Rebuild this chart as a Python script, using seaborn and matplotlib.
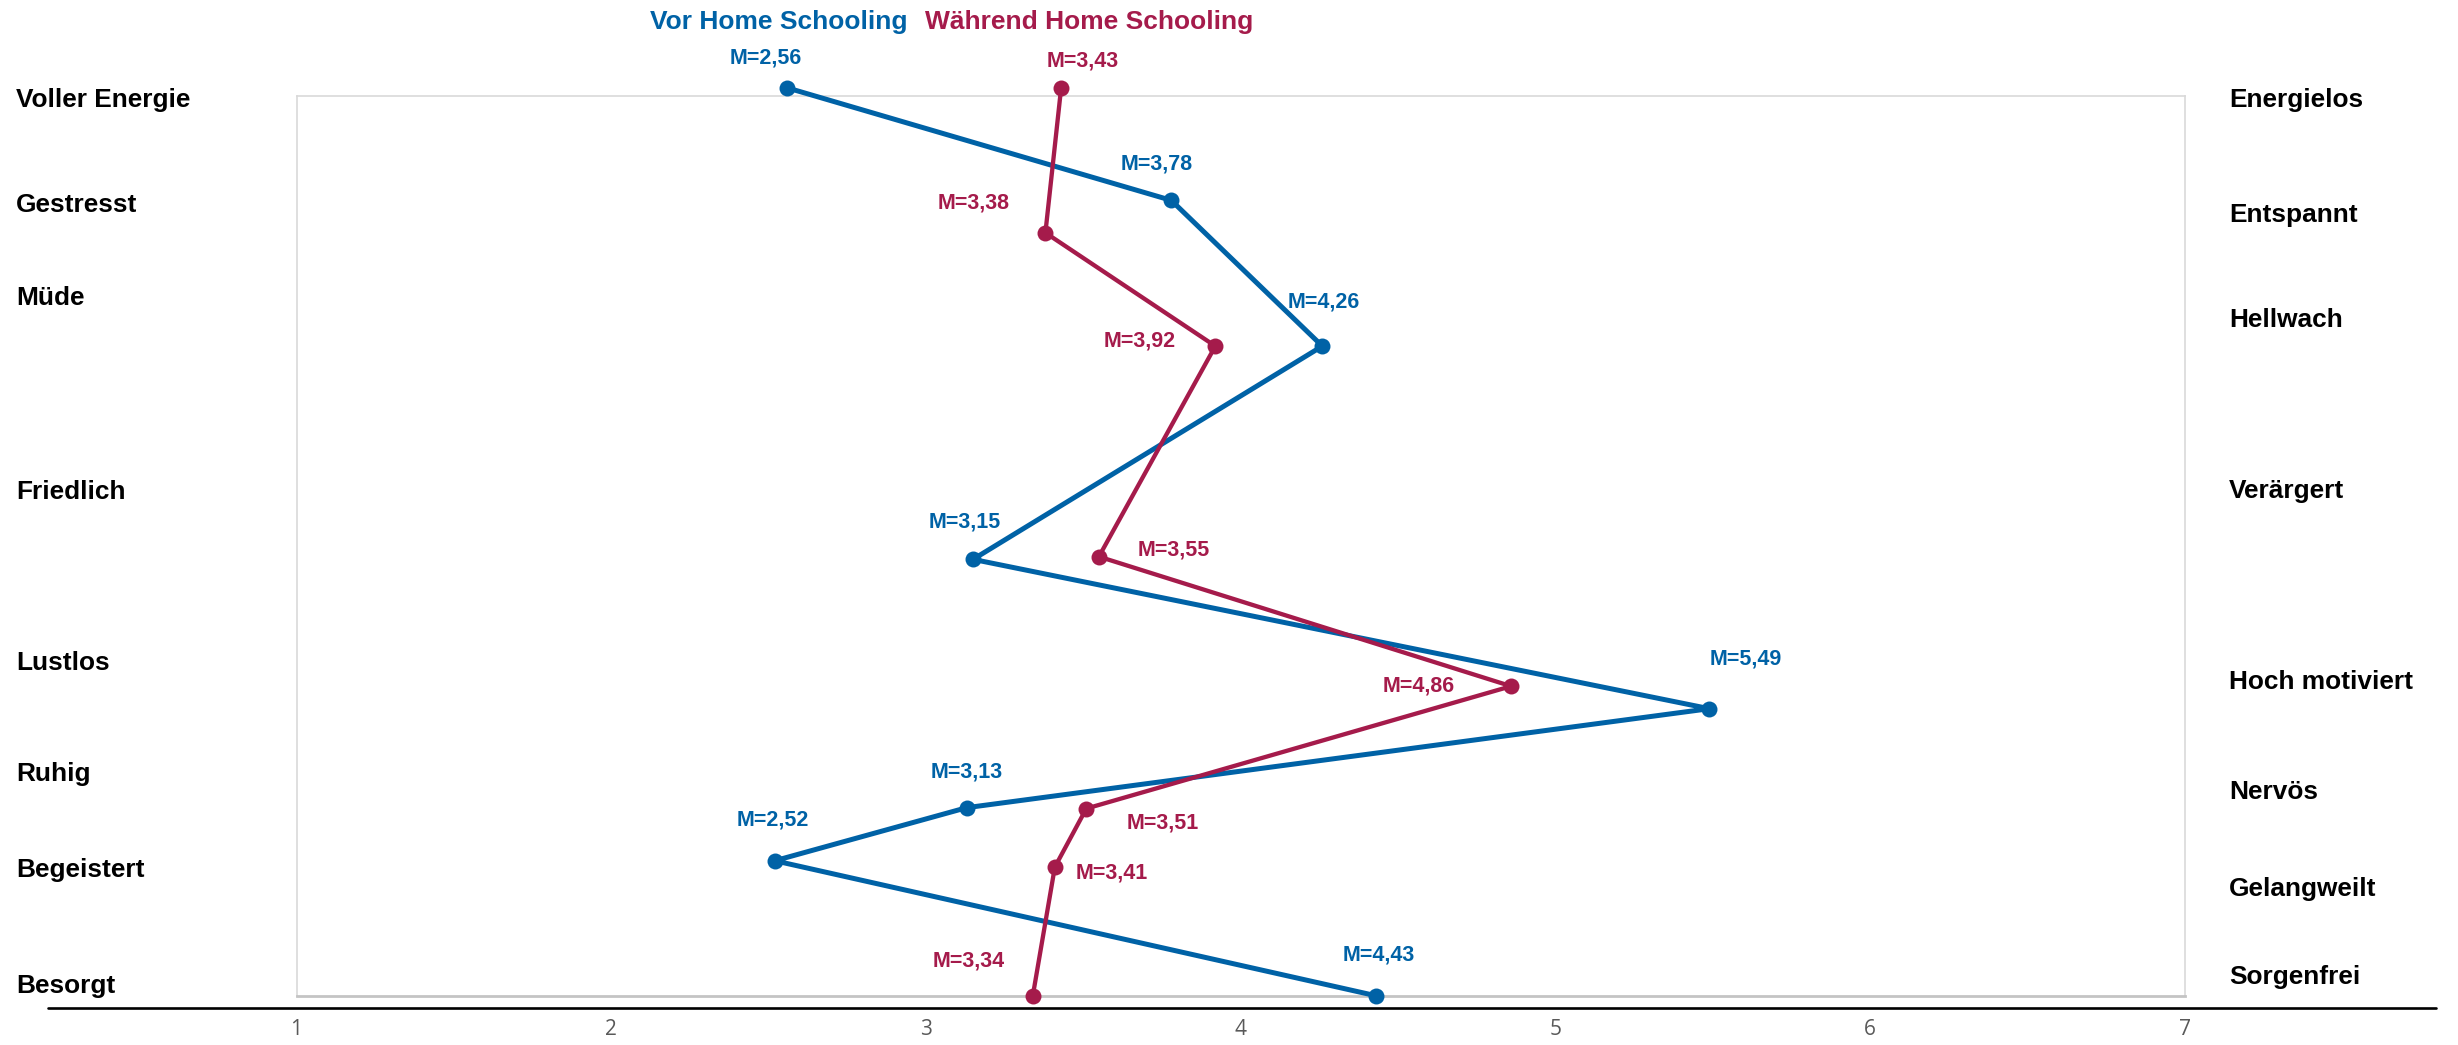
import matplotlib
matplotlib.use("Agg")
import matplotlib.pyplot as plt
import seaborn as sns
import pandas as pd
from matplotlib.lines import Line2D

# ---- data -------------------------------------------------------------
left_poles = ["Voller Energie", "Gestresst", "Müde", "Friedlich",
              "Lustlos", "Ruhig", "Begeistert", "Besorgt"]
right_poles = ["Energielos", "Entspannt", "Hellwach", "Verärgert",
               "Hoch motiviert", "Nervös", "Gelangweilt", "Sorgenfrei"]

m_vor = [2.56, 3.78, 4.26, 3.15, 5.49, 3.13, 2.52, 4.43]
m_waehrend = [3.43, 3.38, 3.92, 3.55, 4.86, 3.51, 3.41, 3.34]

# vertical row position of each item (0 = bottom of frame, 100 = top)
rows_vor = [100.9, 88.4, 72.2, 48.5, 31.9, 20.9, 15.0, 0.0]
rows_waehrend = [100.9, 84.8, 72.2, 48.8, 34.4, 20.8, 14.3, 0.0]

series_names = ["Vor Home Schooling", "Während Home Schooling"]
x_ticks = [1, 2, 3, 4, 5, 6, 7]

# ---- style ------------------------------------------------------------
BLUE = "#0062A6"
RED = "#A51B4B"
W, H = 2458, 1045

sns.set_theme(style="white")
plt.rcParams["font.family"] = ["Liberation Sans", "DejaVu Sans"]

fig = plt.figure(figsize=(W / 100, H / 100), dpi=100)


def fx(px):
    return px / W


def fy(py):
    return 1 - py / H


# plot frame spans x = 1..7
frame_l, frame_r, frame_t, frame_b = 296.5, 2184.5, 96.0, 995.7
ax = fig.add_axes([fx(frame_l), fy(frame_b), fx(frame_r) - fx(frame_l),
                   fy(frame_t) - fy(frame_b)])

df = pd.DataFrame({
    "M": m_vor + m_waehrend,
    "row": rows_vor + rows_waehrend,
    "phase": [series_names[0]] * len(m_vor) + [series_names[1]] * len(m_waehrend),
})

sns.lineplot(data=df[df.phase == series_names[0]], x="M", y="row",
             sort=False, estimator=None, color=BLUE, linewidth=3.6,
             marker="o", markersize=11.5, markeredgewidth=0, ax=ax,
             legend=False)
sns.lineplot(data=df[df.phase == series_names[1]], x="M", y="row",
             sort=False, estimator=None, color=RED, linewidth=3.1,
             marker="o", markersize=11.5, markeredgewidth=0, ax=ax,
             legend=False)
for ln in ax.lines:
    ln.set_clip_on(False)
    ln.set_zorder(4)
    ln.set_solid_capstyle("round")

ax.set_xlim(1, 7)
ax.set_ylim(0, 100)
ax.set_xlabel("")
ax.set_ylabel("")
ax.set_yticks([])
ax.set_xticks(x_ticks)
ax.set_xticklabels([str(t) for t in x_ticks], fontfamily="Open Sans",
                   fontsize=15, color="#595959")
ax.tick_params(axis="x", length=0, pad=17)

for side in ["top", "left", "right"]:
    ax.spines[side].set_color("#d9d9d9")
    ax.spines[side].set_linewidth(1.2)
ax.spines["bottom"].set_color("#c4c4c4")
ax.spines["bottom"].set_linewidth(2.0)

# value labels, offsets in points relative to each marker
off_vor = [(-14, -19), (-9, -23), (1, -28), (-5, -24),
           (23, -32), (0, -23), (-1, -26), (2, -26)]
off_waehrend = [(14, -17), (-46, -19), (-48, -3), (48, -4),
                (-59, 0), (49, 9), (36, 4), (-41, -22)]
k = 1.1287
for vals, rows, offs, col in [(m_vor, rows_vor, off_vor, BLUE),
                              (m_waehrend, rows_waehrend, off_waehrend, RED)]:
    for v, r, (dx, dy) in zip(vals, rows, offs):
        ax.annotate("M=" + f"{v:.2f}".replace(".", ","), (v, r),
                    xytext=(dx * k, -dy * k), textcoords="offset points",
                    ha="center", va="center", fontsize=15.5,
                    fontweight="bold", color=col, annotation_clip=False,
                    zorder=5)

# pole labels on both sides
left_y = [100, 205, 298, 492, 663, 774, 870, 986]
right_y = [100, 215, 320, 491, 682, 792, 889, 977]
for name, py in zip(left_poles, left_y):
    fig.text(fx(16), fy(py), name, ha="left", va="center",
             fontsize=18.9, fontweight="bold", color="black")
for name, py in zip(right_poles, right_y):
    fig.text(fx(2229), fy(py), name, ha="left", va="center",
             fontsize=18.9, fontweight="bold", color="black")

# series titles at the top
fig.text(fx(650), fy(22), series_names[0], ha="left", va="center",
         fontsize=19, fontweight="bold", color=BLUE)
fig.text(fx(925), fy(22), series_names[1], ha="left", va="center",
         fontsize=19, fontweight="bold", color=RED)

# black base rule under the frame
fig.add_artist(Line2D([fx(48), fx(2436)], [fy(1007.7), fy(1007.7)],
                      color="black", linewidth=1.9,
                      transform=fig.transFigure))

fig.savefig("out.png", dpi=100, facecolor="white")
